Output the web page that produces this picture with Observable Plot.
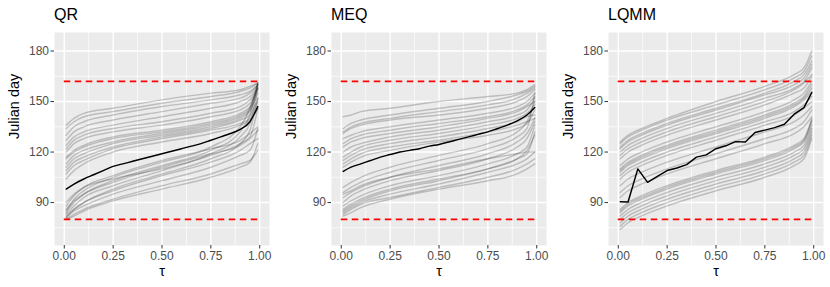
<!DOCTYPE html>
<html>
<head>
<meta charset="utf-8">
<script src="https://cdn.jsdelivr.net/npm/d3@7"></script>
<script src="https://cdn.jsdelivr.net/npm/@observablehq/plot@0.6"></script>
<style>
  html, body { margin: 0; padding: 0; background: #fff; }
  body { font-family: "Liberation Sans", Arial, Helvetica, sans-serif; }
  #row { display: flex; width: 830px; height: 287px; }
  .cell { position: relative; }
  .title { height: 32px; box-sizing: border-box; padding-left: 54px; padding-top: 7px;
           font-size: 16px; line-height: 16px; color: #000; }
  svg { display: block; }
</style>
</head>
<body>
<div id="row"></div>
<script>
// ---- data ----
const panelTitles = ["QR", "MEQ", "LQMM"];
const taus = [0.01, 0.05, 0.10, 0.25, 0.50, 0.75, 0.90, 0.95, 0.99];
const tausFine = [0.01, 0.05, 0.10, 0.15, 0.20, 0.25, 0.30, 0.35, 0.40, 0.45, 0.50,
                  0.55, 0.60, 0.65, 0.70, 0.75, 0.80, 0.85, 0.90, 0.95, 0.99];
const xTicks = [0, 0.25, 0.5, 0.75, 1];
const yTicks = [90, 120, 150, 180];
const xMinor = [0.125, 0.375, 0.625, 0.875];
const yMinor = [75, 105, 135, 165];
const thresholds = [80, 162];
const tauRange = [0, 1];

const qrGray = [
  [136,140,143,146,151,155,157,159,161],
  [134,138,141,144,149,153,156,158,161],
  [130,135,138,142,147,151,154,156,160],
  [127,132,135,139,144,149,152,155,160],
  [124,129,132,136,141,146,150,153,159],
  [122,127,130,134,138,143,147,151,158],
  [120,125,128,132,136,141,145,149,157],
  [117,121,124,129,133,138,143,147,158],
  [116,120,123,128,132,137,142,146,161],
  [113,118,121,126,131,136,141,145,155],
  [111,116,119,125,130,135,140,144,160],
  [109,114,117,123,129,134,139,142,152],
  [107,112,115,122,128,133,137,140,150],
  [104,109,113,120,126,131,136,139,146],
  [85,92,97,105,114,123,135,146,161],
  [84,90,95,103,112,121,132,142,160],
  [83,88,93,100,109,119,129,137,158],
  [88,94,99,106,115,122,127,131,135],
  [86,91,95,102,111,119,124,128,133],
  [82,86,90,97,106,114,121,125,128],
  [81,85,88,95,103,111,118,121,134],
  [80,83,86,92,100,107,113,115,121],
  [81,86,90,98,107,116,125,133,152],
  [90,95,99,104,110,118,125,129,146],
  [80,82,85,91,98,105,111,114,125]
];
const qrBlack = [98,101,104,106.5,109,111.5,113,114.5,116,117.5,119,
                 120.5,122,123.5,125,127,129,131,133.5,138,147];

const meqGray = [
  [141,142,144,146,150,153,155,157,160],
  [134,137,139,142,146,150,154,156,159],
  [132,135,137,140,144,148,152,155,158],
  [131,134,136,139,142,146,150,153,157],
  [128,130,132,135,139,143,147,150,155],
  [125,128,130,133,137,141,145,148,153],
  [123,126,128,131,135,140,144,147,150],
  [120,123,125,129,133,138,142,145,152],
  [117,120,123,127,131,136,140,143,148],
  [115,118,121,125,129,134,138,141,142],
  [113,116,119,123,127,132,136,138,140],
  [111,114,117,121,126,130,134,137,145],
  [99,102,105,111,118,125,132,138,150],
  [96,99,102,108,115,122,129,134,155],
  [93,96,99,105,112,119,126,131,140],
  [90,94,97,103,109,116,123,128,138],
  [88,91,94,100,106,113,119,123,136],
  [85,88,91,97,103,110,116,119,132],
  [84,87,90,95,101,108,113,116,120],
  [83,86,89,93,99,105,110,113,116],
  [86,89,92,98,104,110,116,121,130],
  [82,84,87,92,98,103,107,110,113],
  [95,97,100,105,110,116,119,120,120]
];
const meqBlack = [108.5,111,113,115,117,118.5,120,121,122,123.5,124.5,
                  126,127.5,129,130.5,132,134,136,138.5,142,146.5];

const lqmmGray = [
  [126,130,133,140,150,159,166,170,180],
  [125,129,132,139,148,157,164,168,177],
  [123,127,130,137,146,155,162,166,174],
  [122,126,129,136,145,154,160,164,172],
  [120,124,127,134,143,152,158,162,170],
  [118,122,125,132,141,150,157,161,166],
  [116,120,123,130,139,148,155,158,165],
  [112,116,119,126,135,144,151,155,162],
  [110,114,117,124,133,142,149,153,160],
  [109,113,116,123,132,141,148,152,158],
  [108,112,115,122,131,140,147,151,156],
  [106,110,113,120,129,138,144,148,153],
  [104,108,111,118,127,136,142,146,150],
  [100,104,107,114,123,132,138,142,147],
  [96,100,103,110,119,128,134,138,145],
  [93,97,100,107,116,125,131,135,141],
  [86,90,93,100,109,117,124,128,140],
  [85,89,92,99,108,116,123,127,139],
  [84,88,91,98,107,115,122,126,138],
  [82,86,89,96,105,113,120,124,136],
  [80,84,87,94,103,111,118,122,134],
  [78,82,85,92,101,109,116,120,132],
  [76,80,83,90,99,107,114,118,130],
  [74,78,81,88,97,105,112,116,128]
];
const lqmmBlack = [90.5,90.3,110,102,105.5,109,110.5,112.5,117,118.3,122,
                   123.7,126.2,126,131.6,133,134.5,136.5,142.5,146.4,155.3];

// ---- build ----
const font = '"Liberation Sans", Arial, Helvetica, sans-serif';
const widths = [277, 277, 276];
const grays = [qrGray, meqGray, lqmmGray];
const blacks = [qrBlack, meqBlack, lqmmBlack];

function tidyGray(rows) {
  const out = [];
  rows.forEach((r, i) => r.forEach((v, j) => out.push({id: i, tau: taus[j], v})));
  return out;
}
function tidyBlack(vals) {
  return vals.map((v, j) => ({tau: tausFine[j], v}));
}

const row = document.getElementById("row");
panelTitles.forEach((title, k) => {
  const cell = document.createElement("div");
  cell.className = "cell";
  cell.style.width = widths[k] + "px";
  const t = document.createElement("div");
  t.className = "title";
  t.textContent = title;
  cell.appendChild(t);

  const plot = Plot.plot({
    width: widths[k],
    height: 255,
    marginTop: 0,
    marginBottom: 42,
    marginLeft: 54,
    marginRight: widths[k] - 269,
    style: {fontFamily: font, fontSize: "12px", background: "transparent", overflow: "visible"},
    x: {domain: [-0.05, 1.05]},
    y: {domain: [64.5, 191]},
    marks: [
      Plot.frame({fill: "#EBEBEB", stroke: null}),
      Plot.ruleX(xMinor, {stroke: "#fff", strokeWidth: 0.7}),
      Plot.ruleY(yMinor, {stroke: "#fff", strokeWidth: 0.7}),
      Plot.ruleX(xTicks, {stroke: "#fff", strokeWidth: 1.4}),
      Plot.ruleY(yTicks, {stroke: "#fff", strokeWidth: 1.4}),
      Plot.line(tidyGray(grays[k]), {x: "tau", y: "v", z: "id", stroke: "#000",
        strokeOpacity: 0.2, strokeWidth: 1.45, curve: "monotone-x"}),
      Plot.line(tidyBlack(blacks[k]), {x: "tau", y: "v", stroke: "#000",
        strokeWidth: 1.45, curve: k === 2 ? "linear" : "monotone-x"}),
      Plot.ruleY(thresholds, {x1: tauRange[0], x2: tauRange[1], stroke: "#FF0000",
        strokeWidth: 1.7, strokeDasharray: "6.5,4.5"}),
      Plot.axisX({ticks: xTicks, tickFormat: d3.format(".2f"), tickSize: 3.5, tickPadding: 2,
        stroke: "#333333", fill: "#4D4D4D", label: null}),
      Plot.axisY({ticks: yTicks, tickSize: 3.5, tickPadding: 2,
        stroke: "#333333", fill: "#4D4D4D", label: null}),
      Plot.text(["τ"], {text: d => d, frameAnchor: "bottom", dy: 30, lineAnchor: "bottom",
        fontSize: 14.5, fill: "#000"}),
      Plot.text(["Julian day"], {text: d => d, frameAnchor: "left", dx: -40, rotate: -90,
        lineAnchor: "middle", fontSize: 14.5, fill: "#000"})
    ]
  });
  cell.appendChild(plot);
  row.appendChild(cell);
});
</script>
</body>
</html>
